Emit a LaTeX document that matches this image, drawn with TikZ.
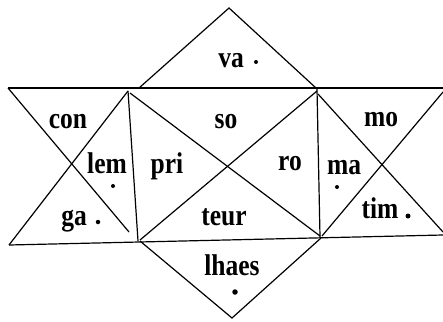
\documentclass[tikz,border=0pt]{standalone}
\usepackage{fontspec}
\setmainfont[FakeStretch=0.85]{Liberation Serif}
\begin{document}
\begin{tikzpicture}[x=1pt,y=-1pt,
  edge/.style={line width=1.2pt,black},
  word/.style={font=\fontsize{30}{30}\selectfont\bfseries,anchor=base,inner sep=0pt},
  dotmark/.style={circle,fill=black,inner sep=0pt,minimum size=4pt}]
\useasboundingbox (0,0) rectangle (443,321);
% corner coordinates
\coordinate (TL) at (8,88);
\coordinate (TR) at (443,88);
\coordinate (BL) at (9,245);
\coordinate (BR) at (443,235);
\coordinate (V1t) at (128,91);
\coordinate (V1b) at (138,241);
\coordinate (V2t) at (317,89);
\coordinate (V2b) at (320,237);
\coordinate (TA) at (139,88);
\coordinate (TB) at (316,88);
\coordinate (Tapex) at (229,8);
\coordinate (BA) at (140,241);
\coordinate (BB) at (321,238);
\coordinate (Bapex) at (232,318);
\coordinate (Lend) at (129,232);
\coordinate (Rs) at (318,94);
\coordinate (Re) at (443,232);
\coordinate (Rt) at (443,92);
\coordinate (Rb) at (322,236);
\coordinate (Cl) at (130,93);
\coordinate (Cr) at (317,91);
\coordinate (Cbr) at (320,236);
\coordinate (Cbl) at (140,240);
% frame lines
\draw[edge] (TL) -- (TR);
\draw[edge] (BL) -- (BR);
\draw[edge] (V1t) -- (V1b);
\draw[edge] (V2t) -- (V2b);
% top and bottom triangles
\draw[edge] (TA) -- (Tapex) -- (TB);
\draw[edge] (BA) -- (Bapex) -- (BB);
% left X
\draw[edge] (TL) -- (Lend);
\draw[edge] (V1t) -- (BL);
% middle X
\draw[edge] (Cl) -- (Cbr);
\draw[edge] (Cr) -- (Cbl);
% right X
\draw[edge] (Rs) -- (Re);
\draw[edge] (Rt) -- (Rb);
% words
\node[word] (va) at (231,67) {va};
\node[word] (con) at (68,128) {con};
\node[word] (so) at (226,128) {so};
\node[word] (mo) at (381,126) {mo};
\node[word] (lem) at (107,173) {lem};
\node[word] (pri) at (167,173) {pri};
\node[word] (ro) at (290,170) {ro};
\node[word] (ma) at (344,174) {ma};
\node[word] (ga) at (74,225) {ga};
\node[word] (teur) at (224,225) {teur};
\node[word] (tim) at (380,218) {tim};
\node[word] (lhaes) at (232,275) {lhaes};
% marks
\node[dotmark] (mva) at (256,62) {};
\node[dotmark] (mlem) at (113,186) {};
\node[dotmark] (mma) at (337,187) {};
\node[dotmark,minimum size=4.5pt] (mga) at (98,222) {};
\node[dotmark,minimum size=5pt] (mtim) at (408,216) {};
\node[dotmark,minimum size=5.5pt] (mlhaes) at (235,292) {};
\end{tikzpicture}
\end{document}
